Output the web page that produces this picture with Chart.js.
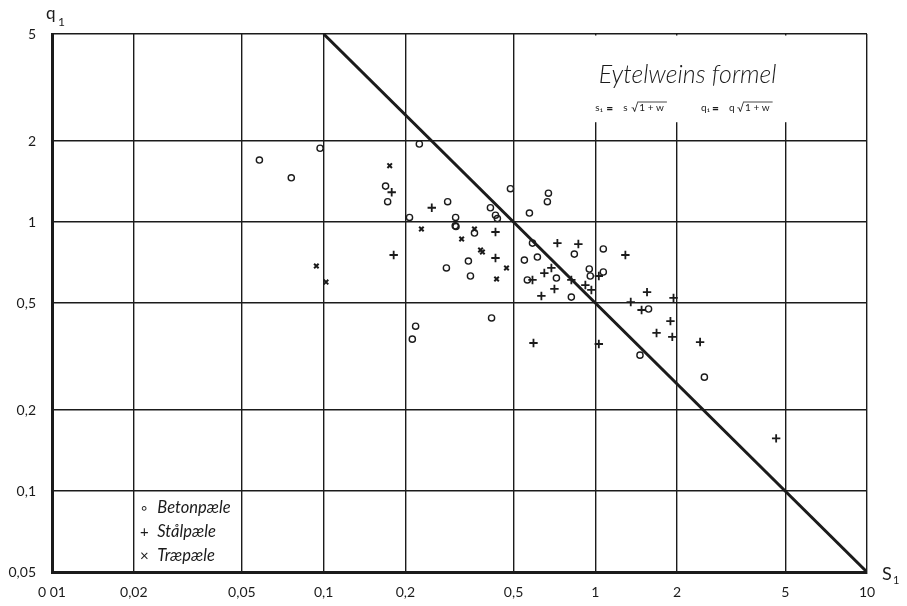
<!DOCTYPE html>
<html>
<head>
<meta charset="utf-8">
<script src="https://cdn.jsdelivr.net/npm/chart.js@4.4.1/dist/chart.umd.min.js"></script>
<style>
  html, body { margin: 0; padding: 0; background: #ffffff; }
  #wrap { width: 907px; height: 606px; position: relative; }
</style>
</head>
<body>
<div id="wrap"><canvas id="c" width="907" height="606"></canvas></div>
<script>
// ---------- data ----------
const xTicks = [0.01, 0.02, 0.05, 0.1, 0.2, 0.5, 1, 2, 5, 10];
const xTickLabels = ['0 01', '0,02', '0,05', '0,1', '0,2', '0,5', '1', '2', '5', '10'];
const yTicks = [0.05, 0.1, 0.2, 0.5, 1, 2, 5];
const yTickLabels = ['0,05', '0,1', '0,2', '0,5', '1', '2', '5'];

// Betonpæle (circles)
const betonS = [0.058, 0.076, 0.097, 0.169, 0.172, 0.207, 0.225, 0.218, 0.212, 0.286, 0.306, 0.305, 0.307,
                0.411, 0.429, 0.436, 0.487, 0.572, 0.672, 0.666, 0.359, 0.587, 0.837, 0.341, 0.548, 0.612,
                0.283, 0.95, 0.347, 0.958, 0.562, 0.719, 0.816, 0.415, 1.07, 1.07, 1.57, 1.46, 2.52];
const betonQ = [1.70, 1.46, 1.88, 1.36, 1.19, 1.04, 1.95, 0.41, 0.367, 1.19, 1.04, 0.968, 0.962,
                1.13, 1.06, 1.03, 1.33, 1.08, 1.28, 1.19, 0.91, 0.835, 0.76, 0.716, 0.722, 0.741,
                0.675, 0.669, 0.63, 0.63, 0.609, 0.619, 0.526, 0.44, 0.794, 0.652, 0.475, 0.32, 0.265];

// Stålpæle (plus)
const staalS = [0.178, 0.181, 0.25, 0.429, 0.429, 0.725, 0.866, 0.689, 0.649, 1.03, 0.587, 0.816, 0.707,
                0.919, 0.967, 0.633, 0.592, 1.03, 1.29, 1.55, 1.35, 1.94, 1.48, 1.89, 1.68, 1.92, 2.43, 4.63];
const staalQ = [1.29, 0.754, 1.13, 0.918, 0.735, 0.835, 0.828, 0.675, 0.646, 0.63, 0.609, 0.609, 0.564,
                0.583, 0.559, 0.531, 0.355, 0.352, 0.754, 0.549, 0.504, 0.522, 0.471, 0.428, 0.387, 0.374, 0.358, 0.157];

// Træpæle (x)
const traeS = [0.094, 0.102, 0.175, 0.229, 0.359, 0.322, 0.378, 0.384, 0.471, 0.433];
const traeQ = [0.686, 0.598, 1.62, 0.942, 0.942, 0.865, 0.787, 0.774, 0.675, 0.614];

// Eytelwein line
const lineS = [0.1, 10];
const lineQ = [5, 0.05];

const legendLabels = ['Betonpæle', 'Stålpæle', 'Træpæle'];
const legendSymbols = ['\u2218', '+', '\u00d7'];

const pts = (xs, ys) => xs.map((v, i) => ({ x: v, y: ys[i] }));

const INK = '#1b1b1b';
const FONT = 'Lato, "Open Sans", "DejaVu Sans", sans-serif';

const decor = {
  id: 'decor',
  beforeDatasetsDraw(chart) {
    const { ctx, chartArea, scales } = chart;
    const left = scales.x.getPixelForValue(0.75);
    const bottom = scales.y.getPixelForValue(2.35);
    ctx.save();
    ctx.fillStyle = '#ffffff';
    ctx.fillRect(left, chartArea.top + 1.5, chartArea.right - 1.5 - left, bottom - chartArea.top - 1.5);
    ctx.restore();
  },
  afterDraw(chart) {
    const { ctx, chartArea, scales } = chart;
    ctx.save();
    ctx.fillStyle = INK;
    ctx.strokeStyle = INK;
    ctx.textBaseline = 'alphabetic';

    // axis names
    ctx.font = '17px ' + FONT;
    ctx.fillText('q', chartArea.left - 6, chartArea.top - 15);
    ctx.font = '12px ' + FONT;
    ctx.fillText('1', chartArea.left + 6, chartArea.top - 8);
    ctx.font = '18px ' + FONT;
    ctx.fillText('S', chartArea.right + 15, chartArea.bottom + 8);
    ctx.font = '11px ' + FONT;
    ctx.fillText('1', chartArea.right + 26, chartArea.bottom + 12);

    // title
    const tx = scales.x.getPixelForValue(1.03);
    ctx.font = 'italic 300 25px ' + FONT;
    ctx.fillText('Eytelweins formel', tx, chartArea.top + 49);

    // formulas
    const drawF = (a, b, x, y) => {
      ctx.font = '10px ' + FONT;
      ctx.fillText(a, x, y);
      ctx.font = 'bold 12px ' + FONT;
      ctx.fillText('=', x + 11, y + 1);
      ctx.font = '10px ' + FONT;
      ctx.fillText(b, x + 28, y);
      ctx.font = '11px ' + FONT;
      ctx.fillText('\u221a', x + 36, y + 1);
      ctx.font = '10px ' + FONT;
      const rad = '1 + w';
      ctx.fillText(rad, x + 44, y);
      const w = ctx.measureText(rad).width;
      ctx.lineWidth = 0.8;
      ctx.beginPath();
      ctx.moveTo(x + 42, y - 9);
      ctx.lineTo(x + 44 + w + 3, y - 9);
      ctx.stroke();
    };
    const fy = chartArea.top + 77;
    drawF('s\u2081', 's', scales.x.getPixelForValue(1.0), fy);
    drawF('q\u2081', 'q', scales.x.getPixelForValue(2.45), fy);

    // legend
    const lx = scales.x.getPixelForValue(0.0215);
    const ly0 = scales.y.getPixelForValue(0.083);
    legendLabels.forEach((lab, i) => {
      const yy = ly0 + i * 24;
      ctx.font = '15px ' + FONT;
      ctx.textAlign = 'center';
      ctx.fillText(legendSymbols[i], lx + 2, yy);
      ctx.textAlign = 'left';
      ctx.font = 'italic 16.5px ' + FONT;
      ctx.fillText(lab, lx + 15, yy);
    });
    ctx.restore();
  }
};

new Chart(document.getElementById('c'), {
  type: 'scatter',
  data: {
    datasets: [
      {
        label: 'Eytelwein',
        data: pts(lineS, lineQ),
        showLine: true,
        borderColor: INK,
        borderWidth: 3,
        pointRadius: 0,
        order: 4
      },
      {
        label: legendLabels[0],
        data: pts(betonS, betonQ),
        pointStyle: 'circle',
        pointRadius: 3.1,
        borderWidth: 1.4,
        borderColor: INK,
        backgroundColor: 'rgba(255,255,255,0)',
        order: 1
      },
      {
        label: legendLabels[1],
        data: pts(staalS, staalQ),
        pointStyle: 'cross',
        pointRadius: 4.2,
        borderWidth: 1.8,
        borderColor: INK,
        order: 2
      },
      {
        label: legendLabels[2],
        data: pts(traeS, traeQ),
        pointStyle: 'crossRot',
        pointRadius: 3.2,
        borderWidth: 2,
        borderColor: INK,
        order: 3
      }
    ]
  },
  options: {
    responsive: false,
    animation: false,
    layout: { padding: { top: 34, right: 40, left: 0, bottom: 0 } },
    plugins: { legend: { display: false }, tooltip: { enabled: false } },
    scales: {
      x: {
        type: 'logarithmic',
        min: 0.01,
        max: 10,
        afterFit(s) { s.height = 34; },
        afterBuildTicks(s) { s.ticks = xTicks.map(v => ({ value: v })); },
        grid: { color: INK, lineWidth: 1.4, drawTicks: false },
        border: { color: INK, width: 3 },
        ticks: {
          autoSkip: false,
          maxRotation: 0,
          padding: 12,
          color: INK,
          font: { family: FONT, size: 14 },
          callback(v) { const i = xTicks.indexOf(v); return i >= 0 ? xTickLabels[i] : ''; }
        }
      },
      y: {
        type: 'logarithmic',
        min: 0.05,
        max: 5,
        afterFit(s) { s.width = 52; },
        afterBuildTicks(s) { s.ticks = yTicks.map(v => ({ value: v })); },
        grid: { color: INK, lineWidth: 1.4, drawTicks: false },
        border: { color: INK, width: 3 },
        ticks: {
          autoSkip: false,
          padding: 16,
          color: INK,
          font: { family: FONT, size: 14 },
          callback(v) { const i = yTicks.indexOf(v); return i >= 0 ? yTickLabels[i] : ''; }
        }
      }
    }
  },
  plugins: [decor]
});
</script>
</body>
</html>
